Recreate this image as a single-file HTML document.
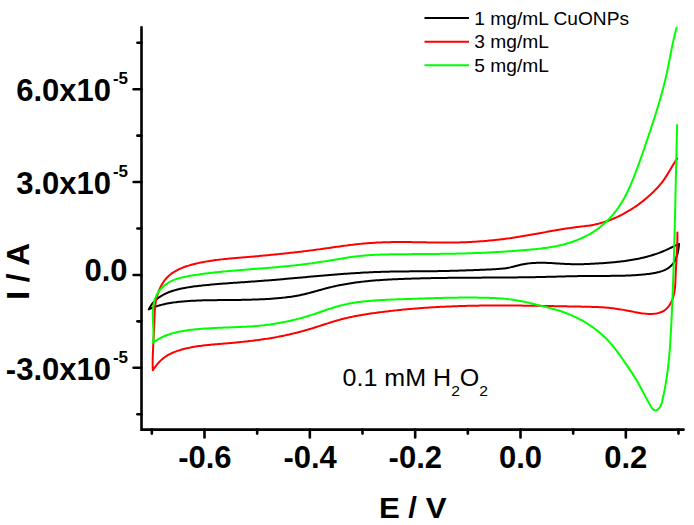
<!DOCTYPE html>
<html><head><meta charset="utf-8"><style>
html,body{margin:0;padding:0;background:#fff;}
svg{display:block;}
.tl{font-family:"Liberation Sans",sans-serif;font-weight:bold;font-size:31px;fill:#000;}
.sup{font-size:17px;}
.lg{font-family:"Liberation Sans",sans-serif;font-size:18px;fill:#000;}
</style></head><body>
<svg width="694" height="525" viewBox="0 0 694 525">
<rect width="694" height="525" fill="#fff"/>
<g fill="none" stroke-width="2" stroke-linejoin="round" stroke-linecap="round">
<path d="M148.80,309.40 L149.50,308.03 L150.25,306.71 L151.05,305.44 L151.90,304.21 L152.81,303.03 L153.77,301.91 L154.79,300.84 L155.86,299.83 L156.98,298.87 L158.14,297.96 L159.35,297.10 L160.59,296.29 L161.86,295.52 L163.16,294.80 L164.50,294.12 L165.85,293.48 L167.23,292.87 L168.63,292.30 L170.05,291.77 L171.48,291.26 L172.92,290.79 L174.36,290.35 L175.82,289.93 L177.27,289.54 L178.73,289.17 L180.19,288.83 L181.66,288.50 L183.12,288.20 L184.59,287.91 L186.06,287.65 L187.53,287.39 L189.01,287.16 L190.48,286.93 L191.96,286.72 L193.44,286.53 L194.92,286.34 L196.40,286.15 L197.89,285.98 L199.37,285.81 L200.85,285.65 L202.34,285.49 L203.82,285.34 L205.31,285.19 L206.80,285.04 L208.29,284.90 L209.78,284.76 L211.26,284.62 L212.75,284.49 L214.24,284.36 L215.73,284.23 L217.23,284.10 L218.72,283.98 L220.21,283.86 L221.70,283.74 L223.20,283.62 L224.69,283.51 L226.18,283.40 L227.68,283.29 L229.17,283.18 L230.67,283.07 L232.16,282.96 L233.66,282.86 L235.15,282.75 L236.65,282.65 L238.14,282.55 L239.64,282.44 L241.13,282.34 L242.63,282.24 L244.13,282.14 L245.62,282.03 L247.12,281.93 L248.62,281.83 L250.11,281.72 L251.61,281.62 L253.11,281.51 L254.60,281.41 L256.10,281.30 L257.59,281.19 L259.09,281.08 L260.58,280.97 L262.08,280.86 L263.58,280.74 L265.07,280.62 L266.57,280.51 L268.06,280.39 L269.55,280.27 L271.05,280.15 L272.54,280.02 L274.04,279.90 L275.53,279.77 L277.02,279.65 L278.52,279.52 L280.01,279.39 L281.51,279.26 L283.00,279.13 L284.49,279.00 L285.98,278.87 L287.48,278.74 L288.97,278.61 L290.46,278.47 L291.96,278.34 L293.45,278.21 L294.94,278.07 L296.43,277.94 L297.93,277.80 L299.42,277.67 L300.91,277.53 L302.40,277.40 L303.90,277.26 L305.39,277.13 L306.88,277.00 L308.37,276.86 L309.86,276.73 L311.36,276.59 L312.85,276.46 L314.34,276.33 L315.83,276.20 L317.32,276.07 L318.82,275.93 L320.31,275.80 L321.80,275.68 L323.29,275.55 L324.79,275.42 L326.28,275.29 L327.77,275.17 L329.26,275.04 L330.75,274.92 L332.25,274.80 L333.74,274.68 L335.23,274.56 L336.73,274.44 L338.22,274.32 L339.71,274.21 L341.20,274.09 L342.70,273.98 L344.19,273.87 L345.68,273.76 L347.18,273.66 L348.67,273.55 L350.16,273.45 L351.66,273.35 L353.15,273.25 L354.64,273.15 L356.14,273.06 L357.63,272.97 L359.13,272.88 L360.62,272.79 L362.12,272.70 L363.61,272.62 L365.11,272.54 L366.60,272.46 L368.10,272.39 L369.59,272.32 L371.09,272.25 L372.58,272.18 L374.08,272.12 L375.58,272.06 L377.07,272.00 L378.57,271.95 L380.07,271.89 L381.56,271.85 L383.06,271.80 L384.56,271.76 L386.06,271.72 L387.56,271.68 L389.05,271.65 L390.55,271.62 L392.05,271.59 L393.55,271.56 L395.05,271.53 L396.55,271.51 L398.05,271.49 L399.55,271.47 L401.05,271.45 L402.54,271.43 L404.04,271.42 L405.54,271.40 L407.04,271.39 L408.54,271.38 L410.04,271.37 L411.54,271.35 L413.04,271.34 L414.54,271.33 L416.04,271.32 L417.54,271.31 L419.04,271.30 L420.54,271.29 L422.04,271.28 L423.54,271.27 L425.04,271.26 L426.54,271.25 L428.04,271.23 L429.54,271.22 L431.04,271.20 L432.54,271.19 L434.03,271.17 L435.53,271.15 L437.03,271.13 L438.53,271.11 L440.03,271.08 L441.53,271.06 L443.02,271.03 L444.52,271.00 L446.02,270.97 L447.52,270.93 L449.01,270.90 L450.51,270.86 L452.01,270.82 L453.51,270.78 L455.00,270.74 L456.50,270.70 L458.00,270.65 L459.49,270.61 L460.99,270.56 L462.49,270.51 L463.98,270.46 L465.48,270.41 L466.97,270.36 L468.47,270.30 L469.97,270.25 L471.46,270.19 L472.96,270.14 L474.46,270.08 L475.95,270.02 L477.45,269.96 L478.95,269.90 L480.45,269.84 L481.94,269.78 L483.44,269.72 L484.94,269.65 L486.43,269.59 L487.93,269.53 L489.43,269.46 L490.93,269.40 L492.42,269.33 L493.92,269.26 L495.42,269.18 L496.91,269.09 L498.41,268.99 L499.90,268.87 L501.39,268.74 L502.88,268.58 L504.36,268.40 L505.84,268.19 L507.32,267.95 L508.79,267.68 L510.26,267.38 L511.72,267.04 L513.18,266.67 L514.64,266.29 L516.10,265.91 L517.56,265.53 L519.02,265.16 L520.48,264.82 L521.95,264.50 L523.42,264.22 L524.89,263.97 L526.37,263.74 L527.85,263.54 L529.33,263.37 L530.82,263.22 L532.31,263.09 L533.79,262.99 L535.29,262.91 L536.78,262.85 L538.27,262.81 L539.77,262.78 L541.26,262.78 L542.76,262.79 L544.25,262.82 L545.75,262.86 L547.25,262.91 L548.74,262.97 L550.24,263.04 L551.74,263.12 L553.24,263.21 L554.74,263.30 L556.24,263.39 L557.74,263.48 L559.23,263.58 L560.73,263.67 L562.23,263.76 L563.73,263.85 L565.23,263.93 L566.73,264.00 L568.23,264.07 L569.72,264.12 L571.22,264.17 L572.72,264.20 L574.21,264.22 L575.71,264.23 L577.21,264.23 L578.70,264.22 L580.20,264.20 L581.69,264.18 L583.19,264.14 L584.68,264.10 L586.18,264.05 L587.67,263.99 L589.17,263.92 L590.66,263.85 L592.16,263.78 L593.65,263.70 L595.15,263.61 L596.64,263.52 L598.14,263.43 L599.64,263.33 L601.13,263.23 L602.63,263.13 L604.13,263.02 L605.62,262.91 L607.12,262.80 L608.62,262.68 L610.11,262.55 L611.61,262.42 L613.11,262.29 L614.60,262.15 L616.09,262.00 L617.59,261.84 L619.08,261.68 L620.57,261.51 L622.06,261.33 L623.55,261.15 L625.03,260.95 L626.52,260.75 L628.00,260.53 L629.48,260.31 L630.96,260.07 L632.43,259.82 L633.91,259.57 L635.38,259.30 L636.85,259.02 L638.31,258.72 L639.77,258.42 L641.23,258.10 L642.69,257.77 L644.14,257.42 L645.59,257.06 L647.04,256.68 L648.48,256.29 L649.92,255.89 L651.36,255.47 L652.79,255.03 L654.22,254.57 L655.64,254.10 L657.06,253.61 L658.47,253.11 L659.88,252.58 L661.28,252.04 L662.67,251.48 L664.06,250.91 L665.44,250.32 L666.81,249.71 L668.17,249.08 L669.52,248.43 L670.86,247.77 L672.19,247.10 L673.53,246.44 L674.87,245.79 L676.22,245.18 L677.60,244.61 L679.00,244.10 M679.00,244.10 L678.89,245.51 L678.73,246.96 L678.55,248.44 L678.31,249.93 L678.03,251.44 L677.70,252.94 L677.31,254.44 L676.86,255.92 L676.35,257.38 L675.78,258.79 L675.13,260.16 L674.41,261.48 L673.61,262.74 L672.74,263.93 L671.80,265.05 L670.79,266.09 L669.70,267.04 L668.55,267.91 L667.33,268.69 L666.05,269.39 L664.73,270.03 L663.36,270.59 L661.95,271.10 L660.51,271.55 L659.05,271.96 L657.57,272.32 L656.09,272.65 L654.59,272.95 L653.10,273.22 L651.61,273.47 L650.12,273.70 L648.62,273.91 L647.13,274.10 L645.64,274.28 L644.15,274.44 L642.66,274.58 L641.17,274.72 L639.67,274.84 L638.18,274.96 L636.69,275.06 L635.20,275.16 L633.70,275.25 L632.21,275.33 L630.72,275.41 L629.22,275.47 L627.73,275.53 L626.24,275.59 L624.74,275.64 L623.25,275.68 L621.75,275.72 L620.26,275.75 L618.76,275.78 L617.27,275.81 L615.77,275.83 L614.28,275.85 L612.78,275.86 L611.29,275.87 L609.79,275.88 L608.30,275.89 L606.80,275.89 L605.31,275.90 L603.81,275.90 L602.31,275.90 L600.82,275.91 L599.32,275.91 L597.83,275.91 L596.33,275.91 L594.83,275.92 L593.34,275.92 L591.84,275.93 L590.34,275.94 L588.85,275.95 L587.35,275.97 L585.85,275.99 L584.36,276.00 L582.86,276.03 L581.36,276.05 L579.87,276.07 L578.37,276.10 L576.87,276.13 L575.37,276.16 L573.88,276.19 L572.38,276.22 L570.88,276.26 L569.39,276.29 L567.89,276.33 L566.39,276.37 L564.90,276.40 L563.40,276.44 L561.90,276.48 L560.40,276.52 L558.91,276.56 L557.41,276.60 L555.91,276.64 L554.42,276.68 L552.92,276.72 L551.42,276.75 L549.93,276.79 L548.43,276.83 L546.93,276.87 L545.43,276.90 L543.94,276.94 L542.44,276.97 L540.94,277.01 L539.45,277.04 L537.95,277.07 L536.45,277.10 L534.95,277.13 L533.46,277.16 L531.96,277.18 L530.46,277.21 L528.97,277.23 L527.47,277.25 L525.97,277.28 L524.48,277.30 L522.98,277.32 L521.48,277.34 L519.99,277.35 L518.49,277.37 L516.99,277.39 L515.49,277.40 L514.00,277.42 L512.50,277.43 L511.00,277.45 L509.51,277.46 L508.01,277.47 L506.51,277.48 L505.02,277.50 L503.52,277.51 L502.02,277.52 L500.53,277.53 L499.03,277.54 L497.53,277.55 L496.04,277.55 L494.54,277.56 L493.04,277.57 L491.55,277.58 L490.05,277.59 L488.55,277.59 L487.06,277.60 L485.56,277.61 L484.06,277.62 L482.57,277.62 L481.07,277.63 L479.57,277.64 L478.08,277.65 L476.58,277.65 L475.08,277.66 L473.59,277.67 L472.09,277.68 L470.59,277.69 L469.09,277.70 L467.60,277.71 L466.10,277.71 L464.60,277.72 L463.11,277.74 L461.61,277.75 L460.11,277.76 L458.62,277.77 L457.12,277.78 L455.62,277.79 L454.13,277.81 L452.63,277.82 L451.13,277.84 L449.64,277.85 L448.14,277.87 L446.64,277.89 L445.15,277.91 L443.65,277.93 L442.15,277.95 L440.66,277.97 L439.16,277.99 L437.66,278.01 L436.17,278.04 L434.67,278.06 L433.17,278.09 L431.68,278.11 L430.18,278.14 L428.68,278.17 L427.19,278.20 L425.69,278.24 L424.19,278.27 L422.70,278.31 L421.20,278.34 L419.70,278.38 L418.20,278.42 L416.71,278.46 L415.21,278.50 L413.71,278.55 L412.22,278.59 L410.72,278.64 L409.22,278.69 L407.73,278.74 L406.23,278.79 L404.73,278.85 L403.24,278.90 L401.74,278.96 L400.24,279.02 L398.74,279.08 L397.25,279.15 L395.75,279.21 L394.25,279.28 L392.76,279.35 L391.26,279.42 L389.76,279.50 L388.27,279.58 L386.77,279.67 L385.28,279.75 L383.78,279.84 L382.29,279.94 L380.79,280.04 L379.30,280.14 L377.81,280.25 L376.31,280.36 L374.82,280.48 L373.33,280.60 L371.84,280.73 L370.35,280.86 L368.86,281.00 L367.37,281.15 L365.88,281.30 L364.40,281.46 L362.91,281.62 L361.43,281.79 L359.94,281.97 L358.46,282.15 L356.98,282.34 L355.50,282.54 L354.02,282.75 L352.54,282.96 L351.06,283.18 L349.58,283.41 L348.11,283.65 L346.64,283.90 L345.16,284.15 L343.69,284.41 L342.22,284.69 L340.76,284.97 L339.29,285.26 L337.83,285.56 L336.36,285.87 L334.90,286.20 L333.44,286.53 L331.98,286.87 L330.53,287.22 L329.07,287.58 L327.62,287.96 L326.17,288.34 L324.72,288.73 L323.27,289.12 L321.82,289.52 L320.37,289.92 L318.92,290.33 L317.48,290.73 L316.03,291.14 L314.58,291.54 L313.13,291.94 L311.68,292.33 L310.23,292.72 L308.78,293.10 L307.33,293.48 L305.87,293.84 L304.41,294.19 L302.95,294.53 L301.49,294.85 L300.03,295.16 L298.56,295.46 L297.09,295.73 L295.62,295.99 L294.14,296.24 L292.66,296.47 L291.19,296.69 L289.70,296.90 L288.22,297.10 L286.74,297.28 L285.25,297.46 L283.77,297.62 L282.28,297.78 L280.79,297.93 L279.30,298.07 L277.81,298.20 L276.32,298.33 L274.83,298.45 L273.34,298.57 L271.85,298.68 L270.36,298.78 L268.87,298.88 L267.37,298.97 L265.88,299.05 L264.39,299.14 L262.89,299.21 L261.40,299.28 L259.90,299.35 L258.41,299.41 L256.91,299.47 L255.42,299.52 L253.92,299.57 L252.43,299.62 L250.93,299.66 L249.44,299.70 L247.94,299.74 L246.44,299.77 L244.94,299.80 L243.45,299.83 L241.95,299.86 L240.45,299.88 L238.95,299.91 L237.46,299.93 L235.96,299.94 L234.46,299.96 L232.96,299.98 L231.46,299.99 L229.96,300.01 L228.47,300.02 L226.97,300.03 L225.47,300.04 L223.97,300.06 L222.47,300.07 L220.97,300.08 L219.47,300.10 L217.97,300.11 L216.47,300.13 L214.98,300.14 L213.48,300.16 L211.98,300.18 L210.48,300.20 L208.98,300.23 L207.48,300.26 L205.99,300.29 L204.49,300.32 L202.99,300.36 L201.50,300.41 L200.00,300.46 L198.50,300.51 L197.01,300.57 L195.51,300.64 L194.02,300.71 L192.52,300.79 L191.03,300.87 L189.54,300.97 L188.04,301.07 L186.55,301.17 L185.06,301.29 L183.57,301.41 L182.08,301.55 L180.59,301.69 L179.10,301.84 L177.61,302.01 L176.13,302.18 L174.64,302.37 L173.16,302.57 L171.68,302.79 L170.21,303.02 L168.73,303.27 L167.27,303.55 L165.80,303.84 L164.35,304.15 L162.90,304.49 L161.45,304.85 L160.01,305.24 L158.58,305.65 L157.16,306.09 L155.74,306.56 L154.33,307.06 L152.94,307.60 L151.55,308.16 L150.17,308.76 L148.80,309.40" stroke="#000"/>
<path d="M152.80,370.30 L152.75,368.79 L152.71,367.28 L152.69,365.78 L152.67,364.28 L152.67,362.77 L152.68,361.27 L152.70,359.77 L152.72,358.28 L152.76,356.78 L152.80,355.28 L152.85,353.79 L152.91,352.29 L152.97,350.80 L153.04,349.30 L153.11,347.81 L153.18,346.31 L153.26,344.82 L153.34,343.33 L153.42,341.83 L153.50,340.34 L153.58,338.84 L153.67,337.35 L153.75,335.85 L153.83,334.36 L153.91,332.86 L153.98,331.36 L154.05,329.86 L154.12,328.36 L154.18,326.85 L154.23,325.35 L154.28,323.84 L154.32,322.34 L154.37,320.83 L154.41,319.32 L154.45,317.81 L154.51,316.31 L154.57,314.80 L154.64,313.30 L154.72,311.80 L154.82,310.30 L154.93,308.81 L155.07,307.32 L155.23,305.84 L155.42,304.37 L155.64,302.90 L155.89,301.43 L156.17,299.98 L156.48,298.53 L156.84,297.09 L157.23,295.66 L157.66,294.23 L158.14,292.82 L158.65,291.41 L159.21,290.02 L159.81,288.63 L160.46,287.26 L161.16,285.90 L161.91,284.55 L162.70,283.23 L163.53,281.95 L164.41,280.70 L165.34,279.50 L166.32,278.34 L167.33,277.25 L168.39,276.21 L169.50,275.22 L170.63,274.29 L171.81,273.40 L173.02,272.56 L174.26,271.77 L175.53,271.02 L176.83,270.31 L178.15,269.64 L179.50,269.00 L180.86,268.40 L182.25,267.83 L183.65,267.29 L185.06,266.78 L186.48,266.30 L187.92,265.84 L189.36,265.39 L190.80,264.97 L192.25,264.57 L193.70,264.18 L195.16,263.81 L196.61,263.46 L198.07,263.12 L199.54,262.80 L201.00,262.49 L202.47,262.19 L203.94,261.91 L205.42,261.64 L206.89,261.38 L208.37,261.14 L209.85,260.91 L211.34,260.68 L212.82,260.47 L214.31,260.26 L215.79,260.07 L217.28,259.88 L218.77,259.70 L220.26,259.53 L221.76,259.37 L223.25,259.21 L224.74,259.06 L226.24,258.91 L227.74,258.76 L229.23,258.62 L230.73,258.49 L232.23,258.36 L233.73,258.22 L235.22,258.10 L236.72,257.97 L238.22,257.84 L239.72,257.71 L241.22,257.59 L242.71,257.46 L244.21,257.33 L245.71,257.20 L247.20,257.07 L248.70,256.94 L250.19,256.81 L251.69,256.67 L253.18,256.54 L254.68,256.41 L256.17,256.27 L257.67,256.14 L259.16,256.00 L260.65,255.86 L262.15,255.72 L263.64,255.58 L265.13,255.44 L266.62,255.30 L268.12,255.16 L269.61,255.01 L271.10,254.87 L272.59,254.72 L274.08,254.57 L275.57,254.43 L277.06,254.28 L278.56,254.12 L280.05,253.97 L281.54,253.82 L283.03,253.66 L284.52,253.50 L286.00,253.34 L287.49,253.18 L288.98,253.02 L290.47,252.85 L291.96,252.69 L293.45,252.52 L294.94,252.35 L296.43,252.18 L297.91,252.01 L299.40,251.83 L300.89,251.66 L302.38,251.48 L303.86,251.30 L305.35,251.12 L306.84,250.93 L308.33,250.75 L309.81,250.56 L311.30,250.37 L312.79,250.17 L314.27,249.98 L315.76,249.78 L317.25,249.58 L318.73,249.38 L320.22,249.18 L321.71,248.97 L323.19,248.76 L324.68,248.55 L326.16,248.34 L327.65,248.13 L329.14,247.92 L330.62,247.71 L332.11,247.49 L333.59,247.28 L335.08,247.07 L336.57,246.86 L338.05,246.65 L339.54,246.44 L341.03,246.23 L342.51,246.03 L344.00,245.83 L345.49,245.63 L346.98,245.43 L348.47,245.24 L349.95,245.05 L351.44,244.87 L352.93,244.69 L354.42,244.51 L355.91,244.34 L357.40,244.18 L358.89,244.02 L360.38,243.87 L361.87,243.72 L363.36,243.58 L364.86,243.45 L366.35,243.32 L367.84,243.20 L369.33,243.09 L370.83,242.98 L372.32,242.88 L373.82,242.78 L375.31,242.69 L376.81,242.61 L378.30,242.53 L379.80,242.46 L381.29,242.40 L382.79,242.34 L384.28,242.29 L385.78,242.24 L387.28,242.20 L388.77,242.17 L390.27,242.14 L391.77,242.11 L393.27,242.09 L394.76,242.07 L396.26,242.06 L397.76,242.05 L399.26,242.05 L400.76,242.05 L402.26,242.05 L403.76,242.05 L405.26,242.06 L406.75,242.07 L408.25,242.09 L409.75,242.10 L411.25,242.12 L412.75,242.14 L414.25,242.16 L415.75,242.18 L417.25,242.20 L418.75,242.23 L420.25,242.25 L421.75,242.28 L423.25,242.30 L424.75,242.33 L426.26,242.35 L427.76,242.38 L429.26,242.40 L430.76,242.42 L432.26,242.45 L433.76,242.47 L435.26,242.49 L436.76,242.50 L438.26,242.52 L439.76,242.53 L441.26,242.54 L442.76,242.55 L444.26,242.56 L445.76,242.56 L447.26,242.56 L448.76,242.56 L450.26,242.55 L451.76,242.54 L453.26,242.52 L454.76,242.50 L456.26,242.47 L457.76,242.45 L459.26,242.41 L460.76,242.37 L462.26,242.33 L463.76,242.27 L465.26,242.22 L466.75,242.16 L468.25,242.09 L469.75,242.02 L471.25,241.94 L472.75,241.86 L474.24,241.77 L475.74,241.68 L477.24,241.58 L478.73,241.48 L480.23,241.37 L481.72,241.26 L483.22,241.14 L484.71,241.02 L486.21,240.89 L487.70,240.76 L489.20,240.62 L490.69,240.48 L492.18,240.33 L493.67,240.18 L495.16,240.02 L496.66,239.86 L498.15,239.69 L499.63,239.52 L501.12,239.34 L502.61,239.16 L504.10,238.97 L505.59,238.78 L507.07,238.58 L508.56,238.38 L510.04,238.17 L511.53,237.96 L513.01,237.75 L514.49,237.53 L515.98,237.30 L517.46,237.07 L518.94,236.84 L520.42,236.60 L521.90,236.36 L523.38,236.11 L524.85,235.86 L526.33,235.61 L527.81,235.35 L529.28,235.09 L530.76,234.83 L532.23,234.56 L533.71,234.29 L535.18,234.02 L536.65,233.75 L538.13,233.48 L539.60,233.21 L541.07,232.94 L542.55,232.67 L544.02,232.39 L545.50,232.12 L546.97,231.85 L548.44,231.58 L549.92,231.32 L551.39,231.05 L552.87,230.79 L554.35,230.53 L555.82,230.27 L557.30,230.01 L558.78,229.76 L560.26,229.51 L561.74,229.27 L563.22,229.03 L564.70,228.80 L566.18,228.57 L567.66,228.34 L569.15,228.12 L570.63,227.90 L572.12,227.69 L573.60,227.49 L575.09,227.29 L576.58,227.10 L578.07,226.91 L579.56,226.73 L581.05,226.55 L582.54,226.38 L584.04,226.21 L585.53,226.03 L587.01,225.84 L588.50,225.64 L589.98,225.42 L591.46,225.17 L592.93,224.90 L594.40,224.61 L595.86,224.30 L597.32,223.96 L598.77,223.60 L600.22,223.22 L601.66,222.81 L603.10,222.39 L604.53,221.95 L605.95,221.48 L607.37,220.99 L608.77,220.49 L610.18,219.96 L611.57,219.42 L612.96,218.85 L614.34,218.27 L615.72,217.67 L617.08,217.05 L618.44,216.41 L619.79,215.76 L621.13,215.09 L622.47,214.40 L623.79,213.70 L625.11,212.98 L626.42,212.24 L627.72,211.49 L629.01,210.72 L630.29,209.94 L631.56,209.14 L632.82,208.33 L634.07,207.51 L635.31,206.67 L636.55,205.81 L637.77,204.95 L638.98,204.07 L640.18,203.17 L641.38,202.26 L642.56,201.34 L643.74,200.41 L644.90,199.47 L646.06,198.51 L647.20,197.54 L648.34,196.55 L649.46,195.56 L650.57,194.55 L651.67,193.53 L652.76,192.50 L653.84,191.45 L654.89,190.39 L655.94,189.31 L656.97,188.22 L657.98,187.11 L658.97,185.99 L659.94,184.85 L660.89,183.70 L661.83,182.53 L662.74,181.34 L663.63,180.13 L664.50,178.91 L665.34,177.67 L666.16,176.42 L666.96,175.15 L667.75,173.87 L668.53,172.58 L669.30,171.29 L670.06,169.99 L670.82,168.69 L671.58,167.40 L672.35,166.11 L673.12,164.82 L673.90,163.55 L674.70,162.29 L675.51,161.04 L676.34,159.81 L677.20,158.60 M677.40,232.60 L677.41,234.13 L677.41,235.65 L677.40,237.17 L677.38,238.68 L677.36,240.19 L677.32,241.69 L677.28,243.18 L677.23,244.68 L677.18,246.17 L677.12,247.65 L677.05,249.14 L676.98,250.62 L676.91,252.10 L676.83,253.58 L676.75,255.06 L676.67,256.53 L676.58,258.01 L676.50,259.49 L676.41,260.97 L676.32,262.46 L676.24,263.94 L676.15,265.43 L676.07,266.92 L675.99,268.41 L675.91,269.91 L675.83,271.41 L675.76,272.92 L675.69,274.43 L675.63,275.95 L675.57,277.47 L675.52,279.00 L675.46,280.53 L675.39,282.07 L675.31,283.60 L675.21,285.13 L675.09,286.65 L674.94,288.17 L674.76,289.67 L674.54,291.17 L674.29,292.66 L673.99,294.13 L673.64,295.59 L673.24,297.02 L672.78,298.44 L672.25,299.84 L671.66,301.21 L671.01,302.55 L670.28,303.85 L669.49,305.10 L668.62,306.29 L667.69,307.42 L666.69,308.47 L665.62,309.43 L664.48,310.30 L663.27,311.08 L661.99,311.74 L660.65,312.31 L659.25,312.77 L657.81,313.15 L656.34,313.45 L654.84,313.67 L653.32,313.82 L651.79,313.90 L650.25,313.93 L648.73,313.91 L647.21,313.84 L645.70,313.73 L644.19,313.59 L642.69,313.40 L641.19,313.20 L639.70,312.96 L638.22,312.70 L636.73,312.43 L635.25,312.15 L633.77,311.86 L632.30,311.56 L630.82,311.26 L629.34,310.97 L627.87,310.69 L626.39,310.41 L624.91,310.14 L623.44,309.88 L621.96,309.63 L620.48,309.39 L619.00,309.16 L617.53,308.94 L616.05,308.73 L614.56,308.53 L613.08,308.34 L611.60,308.16 L610.11,308.00 L608.63,307.85 L607.14,307.71 L605.65,307.59 L604.16,307.48 L602.67,307.37 L601.18,307.28 L599.68,307.19 L598.19,307.12 L596.69,307.05 L595.20,306.99 L593.70,306.93 L592.20,306.88 L590.71,306.84 L589.21,306.80 L587.71,306.77 L586.21,306.73 L584.71,306.70 L583.21,306.68 L581.71,306.65 L580.21,306.62 L578.71,306.59 L577.21,306.57 L575.71,306.54 L574.21,306.51 L572.71,306.48 L571.21,306.45 L569.71,306.43 L568.21,306.40 L566.71,306.37 L565.21,306.34 L563.71,306.31 L562.21,306.28 L560.71,306.25 L559.21,306.22 L557.71,306.20 L556.21,306.17 L554.71,306.14 L553.21,306.11 L551.71,306.08 L550.21,306.05 L548.71,306.03 L547.21,306.00 L545.71,305.97 L544.21,305.94 L542.71,305.92 L541.21,305.89 L539.71,305.87 L538.21,305.84 L536.71,305.82 L535.22,305.79 L533.72,305.77 L532.22,305.75 L530.72,305.73 L529.22,305.71 L527.72,305.69 L526.22,305.67 L524.72,305.65 L523.22,305.63 L521.72,305.61 L520.22,305.60 L518.72,305.58 L517.22,305.57 L515.72,305.55 L514.22,305.54 L512.72,305.53 L511.22,305.52 L509.73,305.51 L508.23,305.50 L506.73,305.49 L505.23,305.49 L503.73,305.49 L502.23,305.48 L500.73,305.48 L499.23,305.48 L497.73,305.48 L496.23,305.48 L494.74,305.49 L493.24,305.49 L491.74,305.50 L490.24,305.51 L488.74,305.52 L487.24,305.53 L485.74,305.54 L484.24,305.56 L482.75,305.58 L481.25,305.59 L479.75,305.61 L478.25,305.64 L476.75,305.66 L475.25,305.69 L473.75,305.71 L472.26,305.74 L470.76,305.77 L469.26,305.81 L467.76,305.84 L466.26,305.88 L464.77,305.92 L463.27,305.96 L461.77,306.01 L460.27,306.05 L458.77,306.10 L457.27,306.15 L455.78,306.20 L454.28,306.26 L452.78,306.32 L451.28,306.38 L449.79,306.44 L448.29,306.50 L446.79,306.57 L445.29,306.64 L443.80,306.71 L442.30,306.79 L440.80,306.86 L439.30,306.94 L437.81,307.02 L436.31,307.11 L434.81,307.19 L433.32,307.28 L431.82,307.37 L430.32,307.47 L428.83,307.57 L427.33,307.66 L425.84,307.77 L424.34,307.87 L422.85,307.98 L421.35,308.09 L419.85,308.20 L418.36,308.32 L416.86,308.43 L415.37,308.55 L413.88,308.68 L412.38,308.80 L410.89,308.93 L409.39,309.07 L407.90,309.20 L406.41,309.34 L404.91,309.48 L403.42,309.62 L401.93,309.77 L400.44,309.92 L398.94,310.07 L397.45,310.22 L395.96,310.38 L394.47,310.54 L392.98,310.71 L391.49,310.87 L390.00,311.04 L388.51,311.22 L387.02,311.39 L385.53,311.57 L384.04,311.75 L382.55,311.94 L381.06,312.13 L379.57,312.32 L378.08,312.51 L376.59,312.71 L375.11,312.91 L373.62,313.12 L372.13,313.33 L370.65,313.55 L369.17,313.77 L367.68,314.00 L366.20,314.23 L364.72,314.46 L363.24,314.71 L361.76,314.96 L360.29,315.22 L358.81,315.48 L357.34,315.75 L355.87,316.03 L354.40,316.32 L352.93,316.62 L351.46,316.92 L350.00,317.24 L348.54,317.56 L347.08,317.89 L345.62,318.24 L344.17,318.59 L342.71,318.95 L341.27,319.33 L339.82,319.71 L338.38,320.11 L336.94,320.52 L335.50,320.93 L334.06,321.36 L332.63,321.79 L331.19,322.23 L329.76,322.68 L328.33,323.13 L326.90,323.59 L325.47,324.04 L324.05,324.50 L322.62,324.97 L321.19,325.43 L319.76,325.89 L318.34,326.35 L316.91,326.81 L315.48,327.27 L314.05,327.73 L312.61,328.17 L311.18,328.62 L309.74,329.05 L308.31,329.48 L306.87,329.91 L305.43,330.32 L303.98,330.73 L302.54,331.13 L301.09,331.53 L299.64,331.91 L298.19,332.29 L296.74,332.67 L295.28,333.03 L293.83,333.39 L292.37,333.74 L290.91,334.09 L289.45,334.42 L287.99,334.75 L286.53,335.08 L285.06,335.39 L283.60,335.70 L282.13,336.00 L280.66,336.30 L279.19,336.58 L277.72,336.86 L276.25,337.14 L274.78,337.40 L273.30,337.66 L271.83,337.92 L270.35,338.17 L268.87,338.41 L267.39,338.64 L265.91,338.87 L264.43,339.09 L262.95,339.31 L261.47,339.53 L259.99,339.73 L258.50,339.94 L257.02,340.13 L255.53,340.33 L254.05,340.52 L252.56,340.70 L251.07,340.88 L249.58,341.06 L248.09,341.23 L246.60,341.40 L245.11,341.56 L243.62,341.72 L242.13,341.88 L240.64,342.04 L239.14,342.19 L237.65,342.34 L236.16,342.48 L234.66,342.63 L233.17,342.77 L231.67,342.91 L230.18,343.05 L228.68,343.18 L227.18,343.32 L225.69,343.45 L224.19,343.58 L222.69,343.71 L221.20,343.84 L219.70,343.97 L218.20,344.09 L216.70,344.22 L215.20,344.35 L213.71,344.48 L212.21,344.61 L210.71,344.75 L209.22,344.90 L207.72,345.04 L206.23,345.20 L204.74,345.36 L203.25,345.53 L201.76,345.71 L200.28,345.91 L198.79,346.11 L197.31,346.32 L195.83,346.55 L194.35,346.79 L192.88,347.05 L191.41,347.32 L189.94,347.61 L188.48,347.92 L187.02,348.24 L185.56,348.59 L184.11,348.95 L182.66,349.34 L181.22,349.75 L179.78,350.18 L178.35,350.64 L176.92,351.12 L175.51,351.63 L174.10,352.18 L172.72,352.75 L171.35,353.37 L170.00,354.02 L168.68,354.71 L167.39,355.45 L166.12,356.23 L164.89,357.06 L163.70,357.94 L162.54,358.88 L161.42,359.86 L160.33,360.89 L159.28,361.96 L158.26,363.07 L157.28,364.21 L156.33,365.38 L155.40,366.58 L154.51,367.80 L153.64,369.04 L152.80,370.30" stroke="#ff0000"/>
<path d="M153.00,342.70 L153.17,341.25 L153.29,339.80 L153.38,338.33 L153.44,336.85 L153.46,335.37 L153.46,333.88 L153.44,332.38 L153.40,330.87 L153.34,329.36 L153.28,327.85 L153.20,326.33 L153.13,324.81 L153.05,323.28 L152.97,321.76 L152.91,320.23 L152.86,318.71 L152.82,317.19 L152.80,315.67 L152.80,314.15 L152.83,312.64 L152.89,311.13 L152.98,309.63 L153.11,308.13 L153.29,306.65 L153.50,305.17 L153.77,303.70 L154.09,302.24 L154.47,300.79 L154.90,299.36 L155.39,297.95 L155.95,296.57 L156.57,295.22 L157.25,293.91 L158.00,292.63 L158.83,291.39 L159.72,290.20 L160.67,289.06 L161.69,287.96 L162.76,286.91 L163.88,285.91 L165.05,284.97 L166.26,284.07 L167.51,283.23 L168.79,282.44 L170.10,281.71 L171.44,281.03 L172.79,280.41 L174.17,279.84 L175.57,279.32 L176.98,278.84 L178.40,278.39 L179.84,277.99 L181.30,277.61 L182.76,277.27 L184.23,276.95 L185.71,276.65 L187.19,276.37 L188.67,276.10 L190.16,275.84 L191.65,275.59 L193.14,275.35 L194.63,275.11 L196.11,274.88 L197.60,274.65 L199.09,274.43 L200.58,274.22 L202.07,274.01 L203.56,273.80 L205.05,273.61 L206.54,273.41 L208.02,273.23 L209.51,273.04 L211.00,272.86 L212.49,272.69 L213.98,272.52 L215.47,272.35 L216.96,272.19 L218.45,272.03 L219.95,271.88 L221.44,271.73 L222.93,271.58 L224.42,271.44 L225.91,271.30 L227.40,271.16 L228.89,271.02 L230.38,270.89 L231.87,270.76 L233.37,270.63 L234.86,270.50 L236.35,270.38 L237.84,270.25 L239.33,270.13 L240.83,270.01 L242.32,269.89 L243.81,269.77 L245.31,269.66 L246.80,269.54 L248.29,269.42 L249.78,269.31 L251.28,269.19 L252.77,269.08 L254.26,268.96 L255.76,268.85 L257.25,268.73 L258.75,268.62 L260.24,268.50 L261.73,268.38 L263.23,268.26 L264.72,268.14 L266.22,268.02 L267.71,267.90 L269.21,267.78 L270.70,267.65 L272.19,267.52 L273.69,267.40 L275.18,267.27 L276.68,267.13 L278.17,267.00 L279.67,266.87 L281.16,266.73 L282.65,266.59 L284.15,266.45 L285.64,266.30 L287.13,266.15 L288.63,266.00 L290.12,265.85 L291.61,265.70 L293.10,265.54 L294.60,265.38 L296.09,265.21 L297.58,265.05 L299.07,264.88 L300.56,264.70 L302.05,264.52 L303.54,264.34 L305.03,264.16 L306.52,263.97 L308.01,263.78 L309.50,263.58 L310.98,263.38 L312.47,263.18 L313.96,262.97 L315.44,262.75 L316.93,262.54 L318.41,262.31 L319.90,262.09 L321.38,261.85 L322.86,261.62 L324.35,261.38 L325.83,261.14 L327.31,260.89 L328.79,260.64 L330.27,260.39 L331.76,260.14 L333.24,259.89 L334.72,259.64 L336.20,259.39 L337.68,259.15 L339.16,258.90 L340.64,258.66 L342.12,258.42 L343.60,258.18 L345.08,257.94 L346.57,257.72 L348.05,257.49 L349.53,257.27 L351.01,257.06 L352.50,256.86 L353.98,256.66 L355.47,256.47 L356.95,256.29 L358.44,256.12 L359.93,255.95 L361.42,255.80 L362.91,255.66 L364.40,255.52 L365.89,255.40 L367.38,255.28 L368.87,255.18 L370.37,255.08 L371.86,254.99 L373.36,254.90 L374.85,254.82 L376.35,254.75 L377.85,254.69 L379.34,254.63 L380.84,254.58 L382.34,254.53 L383.84,254.48 L385.34,254.44 L386.84,254.41 L388.34,254.38 L389.84,254.35 L391.34,254.33 L392.84,254.30 L394.34,254.28 L395.84,254.27 L397.34,254.25 L398.84,254.24 L400.34,254.22 L401.84,254.21 L403.35,254.19 L404.85,254.18 L406.35,254.17 L407.85,254.16 L409.35,254.15 L410.85,254.14 L412.35,254.12 L413.85,254.11 L415.36,254.10 L416.86,254.09 L418.36,254.08 L419.86,254.07 L421.36,254.06 L422.86,254.05 L424.36,254.04 L425.86,254.02 L427.36,254.01 L428.86,254.00 L430.37,253.99 L431.87,253.97 L433.37,253.96 L434.87,253.94 L436.37,253.93 L437.87,253.91 L439.37,253.89 L440.87,253.87 L442.37,253.85 L443.87,253.83 L445.37,253.81 L446.87,253.79 L448.37,253.77 L449.87,253.74 L451.37,253.71 L452.86,253.69 L454.36,253.66 L455.86,253.63 L457.36,253.59 L458.86,253.56 L460.36,253.52 L461.86,253.49 L463.35,253.45 L464.85,253.41 L466.35,253.36 L467.85,253.32 L469.34,253.27 L470.84,253.23 L472.34,253.18 L473.84,253.12 L475.33,253.07 L476.83,253.01 L478.33,252.96 L479.82,252.90 L481.32,252.84 L482.82,252.77 L484.31,252.71 L485.81,252.64 L487.30,252.57 L488.80,252.50 L490.30,252.43 L491.79,252.35 L493.29,252.27 L494.78,252.19 L496.28,252.11 L497.78,252.02 L499.27,251.94 L500.77,251.85 L502.26,251.76 L503.76,251.66 L505.26,251.57 L506.75,251.47 L508.25,251.37 L509.75,251.27 L511.24,251.16 L512.74,251.05 L514.23,250.94 L515.73,250.83 L517.23,250.71 L518.72,250.60 L520.22,250.48 L521.72,250.35 L523.21,250.23 L524.71,250.10 L526.21,249.97 L527.71,249.84 L529.20,249.70 L530.70,249.56 L532.20,249.42 L533.70,249.28 L535.19,249.13 L536.69,248.97 L538.19,248.81 L539.68,248.64 L541.17,248.47 L542.67,248.29 L544.16,248.10 L545.65,247.90 L547.13,247.69 L548.62,247.47 L550.10,247.24 L551.58,246.99 L553.06,246.74 L554.54,246.47 L556.01,246.18 L557.48,245.88 L558.94,245.57 L560.41,245.24 L561.86,244.89 L563.32,244.53 L564.77,244.15 L566.21,243.75 L567.65,243.33 L569.08,242.90 L570.51,242.45 L571.93,241.98 L573.34,241.49 L574.75,240.98 L576.15,240.45 L577.54,239.91 L578.92,239.34 L580.29,238.76 L581.66,238.15 L583.01,237.53 L584.35,236.88 L585.69,236.21 L587.01,235.53 L588.32,234.82 L589.62,234.09 L590.91,233.34 L592.19,232.57 L593.45,231.78 L594.70,230.96 L595.94,230.12 L597.17,229.26 L598.37,228.38 L599.57,227.47 L600.75,226.54 L601.91,225.59 L603.06,224.62 L604.20,223.62 L605.31,222.61 L606.41,221.57 L607.50,220.51 L608.56,219.44 L609.61,218.35 L610.64,217.24 L611.65,216.11 L612.64,214.96 L613.62,213.81 L614.57,212.63 L615.51,211.45 L616.42,210.25 L617.31,209.03 L618.19,207.81 L619.04,206.57 L619.87,205.33 L620.68,204.07 L621.48,202.80 L622.25,201.52 L623.01,200.23 L623.75,198.94 L624.48,197.63 L625.19,196.32 L625.88,195.00 L626.56,193.67 L627.22,192.33 L627.87,190.98 L628.51,189.63 L629.14,188.28 L629.75,186.91 L630.36,185.54 L630.95,184.17 L631.54,182.79 L632.11,181.41 L632.68,180.02 L633.24,178.63 L633.79,177.23 L634.34,175.84 L634.87,174.43 L635.41,173.03 L635.94,171.63 L636.46,170.22 L636.99,168.81 L637.50,167.40 L638.02,165.99 L638.54,164.58 L639.05,163.17 L639.56,161.76 L640.06,160.35 L640.57,158.93 L641.07,157.52 L641.57,156.11 L642.07,154.69 L642.57,153.28 L643.06,151.86 L643.55,150.44 L644.05,149.03 L644.53,147.61 L645.02,146.19 L645.51,144.77 L645.99,143.35 L646.47,141.93 L646.96,140.51 L647.44,139.09 L647.91,137.67 L648.39,136.24 L648.87,134.82 L649.34,133.40 L649.81,131.98 L650.28,130.55 L650.76,129.13 L651.22,127.70 L651.69,126.28 L652.16,124.85 L652.63,123.42 L653.09,122.00 L653.55,120.57 L654.01,119.14 L654.47,117.71 L654.92,116.28 L655.38,114.85 L655.83,113.42 L656.27,111.99 L656.72,110.56 L657.16,109.12 L657.60,107.69 L658.03,106.25 L658.47,104.82 L658.89,103.38 L659.32,101.94 L659.74,100.50 L660.16,99.06 L660.57,97.62 L660.98,96.18 L661.38,94.73 L661.78,93.29 L662.18,91.84 L662.57,90.40 L662.96,88.95 L663.34,87.50 L663.71,86.05 L664.08,84.60 L664.45,83.14 L664.81,81.69 L665.16,80.23 L665.51,78.77 L665.85,77.32 L666.18,75.85 L666.51,74.39 L666.84,72.93 L667.15,71.46 L667.46,70.00 L667.77,68.53 L668.07,67.06 L668.37,65.59 L668.66,64.12 L668.95,62.65 L669.24,61.18 L669.53,59.70 L669.81,58.23 L670.10,56.76 L670.38,55.28 L670.67,53.81 L670.96,52.34 L671.25,50.87 L671.55,49.40 L671.84,47.93 L672.14,46.46 L672.45,44.99 L672.76,43.52 L673.08,42.06 L673.40,40.59 L673.73,39.13 L674.07,37.67 L674.41,36.21 L674.77,34.75 L675.13,33.30 L675.51,31.84 L675.89,30.39 L676.29,28.94 L676.70,27.50 M677.10,125.10 L677.06,126.60 L677.03,128.10 L676.99,129.59 L676.95,131.09 L676.92,132.59 L676.88,134.09 L676.85,135.59 L676.81,137.09 L676.77,138.58 L676.74,140.08 L676.70,141.58 L676.67,143.08 L676.63,144.58 L676.60,146.08 L676.57,147.58 L676.53,149.08 L676.50,150.57 L676.46,152.07 L676.43,153.57 L676.40,155.07 L676.36,156.57 L676.33,158.07 L676.29,159.57 L676.26,161.07 L676.23,162.57 L676.19,164.07 L676.16,165.57 L676.13,167.06 L676.09,168.56 L676.06,170.06 L676.03,171.56 L675.99,173.06 L675.96,174.56 L675.93,176.06 L675.89,177.56 L675.86,179.06 L675.83,180.56 L675.80,182.06 L675.76,183.56 L675.73,185.06 L675.69,186.56 L675.66,188.06 L675.63,189.56 L675.59,191.06 L675.56,192.56 L675.53,194.06 L675.49,195.56 L675.46,197.06 L675.42,198.56 L675.39,200.06 L675.35,201.56 L675.32,203.06 L675.28,204.56 L675.25,206.06 L675.21,207.56 L675.18,209.06 L675.14,210.56 L675.11,212.06 L675.07,213.56 L675.04,215.06 L675.00,216.56 L674.96,218.06 L674.93,219.56 L674.89,221.06 L674.85,222.55 L674.81,224.05 L674.78,225.55 L674.74,227.05 L674.70,228.55 L674.66,230.05 L674.62,231.55 L674.58,233.05 L674.54,234.55 L674.50,236.05 L674.46,237.55 L674.42,239.05 L674.38,240.55 L674.34,242.05 L674.30,243.55 L674.26,245.05 L674.21,246.55 L674.17,248.05 L674.13,249.55 L674.08,251.05 L674.04,252.55 L674.00,254.05 L673.95,255.55 L673.91,257.05 L673.86,258.54 L673.81,260.04 L673.77,261.54 L673.72,263.04 L673.67,264.54 L673.62,266.04 L673.58,267.54 L673.53,269.04 L673.48,270.54 L673.43,272.04 L673.38,273.53 L673.33,275.03 L673.27,276.53 L673.22,278.03 L673.17,279.53 L673.12,281.03 L673.06,282.53 L673.01,284.02 L672.95,285.52 L672.90,287.02 L672.84,288.52 L672.79,290.02 L672.73,291.52 L672.67,293.01 L672.61,294.51 L672.55,296.01 L672.49,297.51 L672.43,299.00 L672.37,300.50 L672.31,302.00 L672.25,303.50 L672.18,304.99 L672.12,306.49 L672.06,307.99 L671.99,309.49 L671.92,310.98 L671.86,312.48 L671.79,313.98 L671.72,315.47 L671.65,316.97 L671.58,318.47 L671.51,319.96 L671.44,321.46 L671.37,322.96 L671.30,324.45 L671.22,325.95 L671.15,327.45 L671.07,328.94 L670.99,330.44 L670.91,331.93 L670.83,333.43 L670.74,334.92 L670.65,336.42 L670.56,337.91 L670.47,339.41 L670.38,340.90 L670.28,342.40 L670.18,343.89 L670.07,345.39 L669.96,346.88 L669.85,348.37 L669.73,349.87 L669.61,351.36 L669.49,352.85 L669.36,354.35 L669.22,355.84 L669.09,357.33 L668.94,358.82 L668.80,360.32 L668.64,361.81 L668.48,363.30 L668.32,364.79 L668.15,366.28 L667.98,367.77 L667.80,369.26 L667.61,370.75 L667.41,372.24 L667.21,373.73 L667.01,375.22 L666.79,376.71 L666.57,378.20 L666.35,379.68 L666.11,381.17 L665.87,382.66 L665.62,384.15 L665.36,385.63 L665.10,387.12 L664.82,388.60 L664.54,390.09 L664.25,391.57 L663.95,393.06 L663.65,394.54 L663.33,396.03 L663.00,397.51 L662.67,398.99 L662.32,400.47 L661.95,401.94 L661.52,403.37 L661.02,404.76 L660.41,406.09 L659.69,407.34 L658.82,408.49 L657.79,409.54 L656.59,410.34 L655.30,410.55 L654.07,410.14 L652.99,409.28 L652.04,408.12 L651.17,406.78 L650.35,405.39 L649.54,404.00 L648.76,402.63 L647.99,401.26 L647.24,399.90 L646.50,398.54 L645.77,397.20 L645.06,395.85 L644.35,394.52 L643.65,393.19 L642.95,391.87 L642.25,390.56 L641.56,389.25 L640.86,387.94 L640.16,386.64 L639.46,385.35 L638.75,384.06 L638.03,382.78 L637.29,381.50 L636.55,380.22 L635.79,378.95 L635.01,377.69 L634.23,376.42 L633.43,375.16 L632.62,373.91 L631.79,372.65 L630.96,371.40 L630.13,370.15 L629.28,368.91 L628.43,367.66 L627.58,366.42 L626.72,365.17 L625.86,363.93 L625.00,362.69 L624.15,361.45 L623.29,360.21 L622.43,358.97 L621.57,357.73 L620.70,356.50 L619.84,355.27 L618.96,354.04 L618.08,352.83 L617.20,351.62 L616.30,350.41 L615.39,349.22 L614.48,348.04 L613.55,346.86 L612.61,345.70 L611.65,344.56 L610.68,343.42 L609.70,342.30 L608.70,341.20 L607.67,340.11 L606.64,339.04 L605.58,337.98 L604.51,336.94 L603.42,335.92 L602.32,334.91 L601.20,333.92 L600.07,332.94 L598.92,331.98 L597.76,331.04 L596.59,330.11 L595.40,329.20 L594.20,328.31 L592.98,327.43 L591.75,326.56 L590.51,325.72 L589.26,324.89 L588.00,324.07 L586.72,323.27 L585.44,322.49 L584.14,321.72 L582.84,320.98 L581.52,320.24 L580.20,319.52 L578.86,318.82 L577.52,318.14 L576.17,317.47 L574.81,316.82 L573.45,316.18 L572.07,315.57 L570.69,314.96 L569.30,314.38 L567.91,313.81 L566.51,313.25 L565.11,312.72 L563.70,312.20 L562.29,311.69 L560.87,311.20 L559.44,310.73 L558.02,310.28 L556.59,309.84 L555.16,309.42 L553.72,309.01 L552.28,308.62 L550.84,308.24 L549.40,307.87 L547.96,307.51 L546.51,307.15 L545.06,306.80 L543.61,306.45 L542.16,306.10 L540.71,305.74 L539.26,305.39 L537.80,305.03 L536.35,304.67 L534.89,304.30 L533.44,303.94 L531.98,303.58 L530.52,303.23 L529.06,302.88 L527.59,302.53 L526.13,302.20 L524.66,301.87 L523.19,301.56 L521.72,301.25 L520.25,300.97 L518.77,300.69 L517.29,300.44 L515.81,300.19 L514.33,299.97 L512.84,299.75 L511.35,299.55 L509.87,299.37 L508.37,299.19 L506.88,299.03 L505.39,298.88 L503.89,298.74 L502.40,298.61 L500.90,298.49 L499.40,298.38 L497.90,298.29 L496.40,298.19 L494.90,298.11 L493.40,298.04 L491.89,297.97 L490.39,297.91 L488.89,297.86 L487.38,297.81 L485.88,297.77 L484.38,297.73 L482.88,297.70 L481.37,297.67 L479.87,297.65 L478.37,297.63 L476.87,297.61 L475.37,297.59 L473.87,297.58 L472.37,297.57 L470.87,297.57 L469.37,297.56 L467.87,297.56 L466.38,297.56 L464.88,297.57 L463.38,297.57 L461.89,297.58 L460.39,297.60 L458.89,297.61 L457.40,297.63 L455.90,297.65 L454.40,297.67 L452.91,297.69 L451.41,297.71 L449.92,297.74 L448.42,297.77 L446.93,297.80 L445.43,297.83 L443.94,297.86 L442.44,297.90 L440.95,297.94 L439.45,297.97 L437.96,298.01 L436.46,298.05 L434.97,298.10 L433.47,298.14 L431.98,298.18 L430.48,298.23 L428.99,298.28 L427.49,298.32 L425.99,298.37 L424.50,298.42 L423.00,298.47 L421.50,298.52 L420.00,298.57 L418.50,298.62 L417.01,298.68 L415.51,298.73 L414.01,298.78 L412.51,298.84 L411.01,298.89 L409.51,298.94 L408.01,299.00 L406.50,299.05 L405.00,299.10 L403.50,299.16 L401.99,299.21 L400.49,299.26 L398.98,299.31 L397.48,299.37 L395.97,299.42 L394.46,299.47 L392.96,299.53 L391.45,299.59 L389.94,299.64 L388.44,299.70 L386.93,299.77 L385.42,299.84 L383.92,299.91 L382.41,299.98 L380.91,300.06 L379.40,300.15 L377.90,300.24 L376.40,300.33 L374.89,300.43 L373.39,300.54 L371.89,300.66 L370.40,300.78 L368.90,300.91 L367.41,301.05 L365.91,301.20 L364.42,301.36 L362.93,301.52 L361.45,301.70 L359.96,301.89 L358.48,302.08 L357.00,302.29 L355.52,302.51 L354.05,302.75 L352.58,302.99 L351.11,303.25 L349.64,303.52 L348.18,303.81 L346.72,304.11 L345.26,304.42 L343.81,304.75 L342.36,305.10 L340.92,305.46 L339.48,305.83 L338.04,306.23 L336.60,306.63 L335.17,307.06 L333.74,307.49 L332.32,307.93 L330.89,308.39 L329.47,308.85 L328.05,309.32 L326.63,309.80 L325.21,310.28 L323.79,310.77 L322.37,311.26 L320.95,311.75 L319.54,312.24 L318.12,312.72 L316.69,313.21 L315.27,313.69 L313.85,314.17 L312.42,314.65 L311.00,315.11 L309.57,315.57 L308.13,316.02 L306.70,316.45 L305.26,316.88 L303.81,317.30 L302.37,317.71 L300.92,318.12 L299.47,318.51 L298.02,318.89 L296.57,319.27 L295.11,319.63 L293.66,319.99 L292.19,320.34 L290.73,320.67 L289.27,321.00 L287.80,321.32 L286.33,321.63 L284.86,321.93 L283.39,322.23 L281.92,322.51 L280.44,322.78 L278.97,323.05 L277.49,323.31 L276.01,323.55 L274.53,323.79 L273.05,324.02 L271.56,324.24 L270.08,324.46 L268.59,324.66 L267.11,324.85 L265.62,325.04 L264.13,325.21 L262.64,325.38 L261.16,325.54 L259.67,325.69 L258.17,325.83 L256.68,325.96 L255.19,326.09 L253.70,326.20 L252.21,326.31 L250.71,326.42 L249.22,326.51 L247.73,326.61 L246.23,326.69 L244.74,326.77 L243.24,326.85 L241.74,326.92 L240.25,326.99 L238.75,327.05 L237.26,327.12 L235.76,327.18 L234.26,327.23 L232.76,327.29 L231.27,327.34 L229.77,327.40 L228.27,327.45 L226.77,327.50 L225.27,327.56 L223.77,327.61 L222.28,327.67 L220.78,327.72 L219.28,327.78 L217.78,327.85 L216.28,327.91 L214.78,327.98 L213.28,328.05 L211.79,328.13 L210.29,328.21 L208.79,328.29 L207.29,328.38 L205.79,328.48 L204.29,328.58 L202.80,328.69 L201.30,328.81 L199.80,328.93 L198.30,329.07 L196.81,329.21 L195.31,329.36 L193.81,329.51 L192.32,329.68 L190.82,329.86 L189.33,330.05 L187.83,330.25 L186.34,330.46 L184.85,330.68 L183.36,330.92 L181.88,331.18 L180.40,331.46 L178.92,331.75 L177.45,332.07 L175.99,332.40 L174.54,332.76 L173.10,333.14 L171.66,333.55 L170.24,333.99 L168.82,334.45 L167.42,334.95 L166.03,335.47 L164.66,336.03 L163.29,336.62 L161.95,337.24 L160.62,337.90 L159.30,338.60 L158.00,339.34 L156.72,340.12 L155.46,340.93 L154.22,341.79 L153.00,342.70" stroke="#00ff00"/>
</g>
<g stroke="#000" stroke-width="2.6" stroke-linecap="round">
<path d="M141.5,27.2 L141.5,429.6 L683.6,429.6" fill="none" stroke-linejoin="miter" stroke-linecap="round"/>
<line x1="133.6" y1="89.2" x2="141.5" y2="89.2"/><line x1="133.6" y1="182.07" x2="141.5" y2="182.07"/><line x1="133.6" y1="274.93" x2="141.5" y2="274.93"/><line x1="133.6" y1="367.8" x2="141.5" y2="367.8"/><line x1="137.4" y1="42.77" x2="141.5" y2="42.77"/><line x1="137.4" y1="135.63" x2="141.5" y2="135.63"/><line x1="137.4" y1="228.5" x2="141.5" y2="228.5"/><line x1="137.4" y1="321.37" x2="141.5" y2="321.37"/><line x1="137.4" y1="414.23" x2="141.5" y2="414.23"/><line x1="204.5" y1="429.6" x2="204.5" y2="437.4"/><line x1="309.83" y1="429.6" x2="309.83" y2="437.4"/><line x1="415.17" y1="429.6" x2="415.17" y2="437.4"/><line x1="520.5" y1="429.6" x2="520.5" y2="437.4"/><line x1="625.83" y1="429.6" x2="625.83" y2="437.4"/><line x1="151.83" y1="429.6" x2="151.83" y2="433.6"/><line x1="257.17" y1="429.6" x2="257.17" y2="433.6"/><line x1="362.5" y1="429.6" x2="362.5" y2="433.6"/><line x1="467.83" y1="429.6" x2="467.83" y2="433.6"/><line x1="573.17" y1="429.6" x2="573.17" y2="433.6"/><line x1="678.5" y1="429.6" x2="678.5" y2="433.6"/>
</g>
<g class="tl">
<text x="204.9" y="468" text-anchor="middle">-0.6</text><text x="310.1" y="468" text-anchor="middle">-0.4</text><text x="415.3" y="468" text-anchor="middle">-0.2</text><text x="520.5" y="468" text-anchor="middle">0.0</text><text x="625.7" y="468" text-anchor="middle">0.2</text>

<text x="111" y="101.4" text-anchor="end">6.0x10</text><text x="112.9" y="84.0" class="sup">-5</text>
<text x="111" y="194.3" text-anchor="end">3.0x10</text><text x="112.9" y="177.0" class="sup">-5</text>
<text x="127.6" y="280.6" text-anchor="end">0.0</text>
<text x="111" y="379.7" text-anchor="end">-3.0x10</text><text x="112.9" y="362.6" class="sup">-5</text>

</g>
<text class="tl" x="0" y="0" transform="translate(29.0,271.4) rotate(-90) scale(1.035,1)" text-anchor="middle" style="font-size:30.5px">I / A</text>
<text class="tl" x="0" y="0" transform="translate(412.7,517.8) scale(1.04,1)" text-anchor="middle" style="font-size:30px">E / V</text>
<g stroke-width="2">
<line x1="424.5" y1="18.1" x2="469" y2="18.1" stroke="#000"/>
<line x1="424.5" y1="41.7" x2="469" y2="41.7" stroke="#ff0000"/>
<line x1="424.5" y1="65.2" x2="469" y2="65.2" stroke="#00ff00"/>
</g>
<g class="lg" transform="translate(474.3,0) scale(1.065,1)">
<text x="0" y="24.6">1 mg/mL CuONPs</text>
<text x="0" y="48.3">3 mg/mL</text>
<text x="0" y="72.0">5 mg/mL</text>
</g>
<text class="lg" transform="translate(342.5,385.8) scale(1.045,1)" x="0" y="0" style="font-size:24px">0.1 mM H<tspan dy="10" font-size="15">2</tspan><tspan dy="-10">O</tspan><tspan dy="10" font-size="15">2</tspan></text>
</svg>
</body></html>
